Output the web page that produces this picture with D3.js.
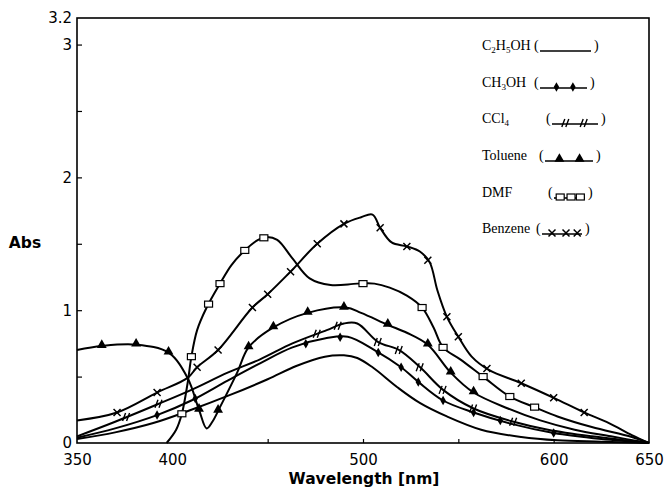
<!DOCTYPE html>
<html><head><meta charset="utf-8">
<script src="https://cdn.jsdelivr.net/npm/d3@7"></script>
<style>body{margin:0;background:#fff}</style>
</head><body>
<svg id="c" width="664" height="490"></svg>
<script>
// ---------- data ----------
const xTickValues = [350, 400, 500, 600, 650];
const yTickValues = [0, 1, 2, 3, 3.2];
const xMinorTicks = [450, 500, 550, 600];
const yMinorTicks = [0.5, 1, 1.5, 2, 2.5, 3];

const seriesNames = ["C2H5OH", "CH3OH", "CCl4", "Toluene", "DMF", "Benzene"];

const wlC2H5OH  = [350,370,390,410,430,450,465,480,490,497,505,518,530,544,562,583,602,625,650];
const absC2H5OH = [0.03,0.08,0.15,0.25,0.36,0.48,0.58,0.65,0.66,0.64,0.57,0.42,0.30,0.20,0.10,0.045,0.02,0.01,0];

const wlCH3OH  = [350,370,392,410,429,446,463,481,492,506,520,529,542,558,579,600,625,650];
const absCH3OH = [0.04,0.11,0.21,0.32,0.47,0.60,0.72,0.79,0.80,0.70,0.57,0.46,0.32,0.23,0.14,0.075,0.03,0];

const wlCCl4  = [350,370,392,410,429,446,463,481,490,497,508,519,530,542,558,579,597,620,650];
const absCCl4 = [0.05,0.16,0.29,0.40,0.53,0.63,0.75,0.85,0.90,0.90,0.76,0.70,0.57,0.40,0.26,0.16,0.10,0.05,0];

const wlToluene  = [350,363,381,398,408,414,418,421,425,434,440,453,471,491,499,513,523,534,546,558,576,593,611,630,650];
const absToluene = [0.70,0.73,0.74,0.68,0.49,0.25,0.11,0.16,0.27,0.53,0.72,0.87,0.98,1.02,0.98,0.89,0.83,0.74,0.53,0.38,0.26,0.17,0.10,0.05,0];

const wlDMF  = [397,402,405,408,410,413,418,425,431,438,445,449,455,463,472,483,497,506,514,523,531,537,542,551,563,577,590,602,620,641,650];
const absDMF = [0,0.10,0.22,0.45,0.65,0.85,1.02,1.20,1.34,1.45,1.53,1.55,1.53,1.39,1.24,1.19,1.20,1.20,1.17,1.11,1.02,0.87,0.72,0.63,0.50,0.35,0.27,0.20,0.12,0.045,0];

const wlBenzene  = [350,371,392,408,413,424,442,450,462,476,490,499,505,509,515,523,530,535,539,544,550,557,566,583,600,616,629,641,650];
const absBenzene = [0.17,0.23,0.38,0.49,0.57,0.70,1.02,1.12,1.29,1.50,1.65,1.70,1.72,1.62,1.51,1.48,1.44,1.36,1.15,0.95,0.80,0.65,0.55,0.45,0.34,0.23,0.15,0.06,0];

// wavelengths where the symbols sit on each curve
const mkCH3OH   = [392,412,470,488,508,520,529,542,558,572,600];
const mkCCl4    = [376,393,476,487,508,519,530,542,558,579];
const mkToluene = [363,381,398,414,424,440,453,471,490,513,534,546,558];
const mkDMF     = [405,410,419,425,438,448,500,531,542,563,577,590];
const mkBenzene = [371,392,413,424,442,450,462,476,490,509,523,534,544,550,565,583,600,616];

// ---------- drawing ----------
const svg = d3.select("#c");
const x = d3.scaleLinear().domain([350, 650]).range([77, 649]);
const y = d3.scaleLinear().domain([0, 3.2]).range([443, 18]);

// frame
svg.append("rect")
  .attr("x", x(350)).attr("y", y(3.2))
  .attr("width", x(650) - x(350)).attr("height", y(0) - y(3.2))
  .attr("fill", "none").attr("stroke", "#000").attr("stroke-width", 1.6);

// axes labels
const gx = svg.append("g").attr("transform", `translate(0,${y(0)})`)
  .call(d3.axisBottom(x).tickValues(xTickValues).tickSize(0).tickPadding(11).tickFormat(d3.format("d")));
gx.select(".domain").remove();
gx.attr("font-family", "DejaVu Sans").attr("font-size", 15);

const gy = svg.append("g").attr("transform", `translate(${x(350)},0)`)
  .call(d3.axisLeft(y).tickValues(yTickValues).tickSize(0).tickPadding(5).tickFormat(d3.format("~g")));
gy.select(".domain").remove();
gy.attr("font-family", "DejaVu Sans").attr("font-size", 15);

// small inner ticks
const gxm = svg.append("g").attr("transform", `translate(0,${y(0)})`)
  .call(d3.axisTop(x).tickValues(xMinorTicks).tickSize(4).tickFormat(() => ""));
gxm.select(".domain").remove();
gxm.selectAll("line").attr("stroke-width", 1.2);
const gym = svg.append("g").attr("transform", `translate(${x(350)},0)`)
  .call(d3.axisRight(y).tickValues(yMinorTicks).tickSize(5).tickFormat(() => ""));
gym.select(".domain").remove();
gym.selectAll("line").attr("stroke-width", 1.2);

svg.append("text").attr("x", 25).attr("y", 248).attr("text-anchor", "middle")
  .attr("font-family", "DejaVu Sans").attr("font-weight", "bold").attr("font-size", 15.5).text("Abs");
svg.append("text").attr("x", 364).attr("y", 484).attr("text-anchor", "middle")
  .attr("font-family", "DejaVu Sans").attr("font-weight", "bold").attr("font-size", 15.5).text("Wavelength [nm]");

// curves
const line = d3.line().x(d => x(d[0])).y(d => y(d[1])).curve(d3.curveCatmullRom.alpha(0.5));
const series = [
  {wl: wlC2H5OH, ab: absC2H5OH, mk: [], type: "none"},
  {wl: wlCH3OH, ab: absCH3OH, mk: mkCH3OH, type: "dot"},
  {wl: wlCCl4, ab: absCCl4, mk: mkCCl4, type: "hash"},
  {wl: wlToluene, ab: absToluene, mk: mkToluene, type: "tri"},
  {wl: wlDMF, ab: absDMF, mk: mkDMF, type: "sq"},
  {wl: wlBenzene, ab: absBenzene, mk: mkBenzene, type: "x"}
];

function drawMarker(g, type, px, py) {
  if (type === "dot") {
    g.append("path").attr("d", d3.symbol(d3.symbolDiamond, 26)()).attr("transform", `translate(${px},${py})`).attr("fill", "#000");
  } else if (type === "hash") {
    g.append("path").attr("d", `M${px-4},${py+4}L${px-1},${py-4}M${px},${py+4}L${px+3},${py-4}`)
      .attr("stroke", "#000").attr("stroke-width", 1.4).attr("fill", "none");
  } else if (type === "tri") {
    g.append("path").attr("d", d3.symbol(d3.symbolTriangle, 42)()).attr("transform", `translate(${px},${py-1})`).attr("fill", "#000");
  } else if (type === "sq") {
    g.append("rect").attr("x", px - 4).attr("y", py - 3).attr("width", 8).attr("height", 6)
      .attr("fill", "#fff").attr("stroke", "#000").attr("stroke-width", 1.2);
  } else if (type === "x") {
    g.append("path").attr("d", `M${px-3.5},${py-3.5}L${px+3.5},${py+3.5}M${px-3.5},${py+3.5}L${px+3.5},${py-3.5}`)
      .attr("stroke", "#000").attr("stroke-width", 1.5).attr("fill", "none");
  }
}

const gc = svg.append("g");
series.forEach(s => {
  const pts = s.wl.map((w, i) => [w, s.ab[i]]);
  gc.append("path").attr("d", line(pts)).attr("fill", "none").attr("stroke", "#000")
    .attr("stroke-width", 2).attr("stroke-linejoin", "round");
});
series.forEach(s => {
  const interp = d3.scaleLinear().domain(s.wl).range(s.ab);
  s.mk.forEach(w => drawMarker(gc, s.type, x(w), y(interp(w))));
});

// legend
const legBase = [50, 87, 123, 160, 197, 233];
const legOpen = [534, 534, 546, 539, 548, 536];
const legClose = [594, 590, 601, 596, 588, 585];
const legMarks = [[], [0.35, 0.7], [0.3, 0.7], [0.3, 0.72], [0.2, 0.55, 0.85], [0.25, 0.6, 0.88]];
const lg = svg.append("g").attr("font-family", "Liberation Serif").attr("font-size", 14);
seriesNames.forEach((name, i) => {
  const t = lg.append("text").attr("x", 482).attr("y", legBase[i]);
  let sub = false;
  name.split(/(\d+)/).filter(p => p.length).forEach(p => {
    const isNum = /^\d+$/.test(p);
    if (isNum) { t.append("tspan").attr("font-size", 9).attr("dy", 3).text(p); sub = true; }
    else { t.append("tspan").attr("dy", sub ? -3 : 0).text(p); sub = false; }
  });
  lg.append("text").attr("x", legOpen[i]).attr("y", legBase[i]).text("(");
  lg.append("text").attr("x", legClose[i]).attr("y", legBase[i]).text(")");
  const x1 = legOpen[i] + 6, x2 = legClose[i] - 3, ly = legBase[i] + 1;
  lg.append("line").attr("x1", x1).attr("x2", x2).attr("y1", ly).attr("y2", ly)
    .attr("stroke", "#000").attr("stroke-width", 1.6);
  legMarks[i].forEach(f => drawMarker(lg, series[i].type, x1 + f * (x2 - x1), ly - 1));
});
</script>
</body></html>
